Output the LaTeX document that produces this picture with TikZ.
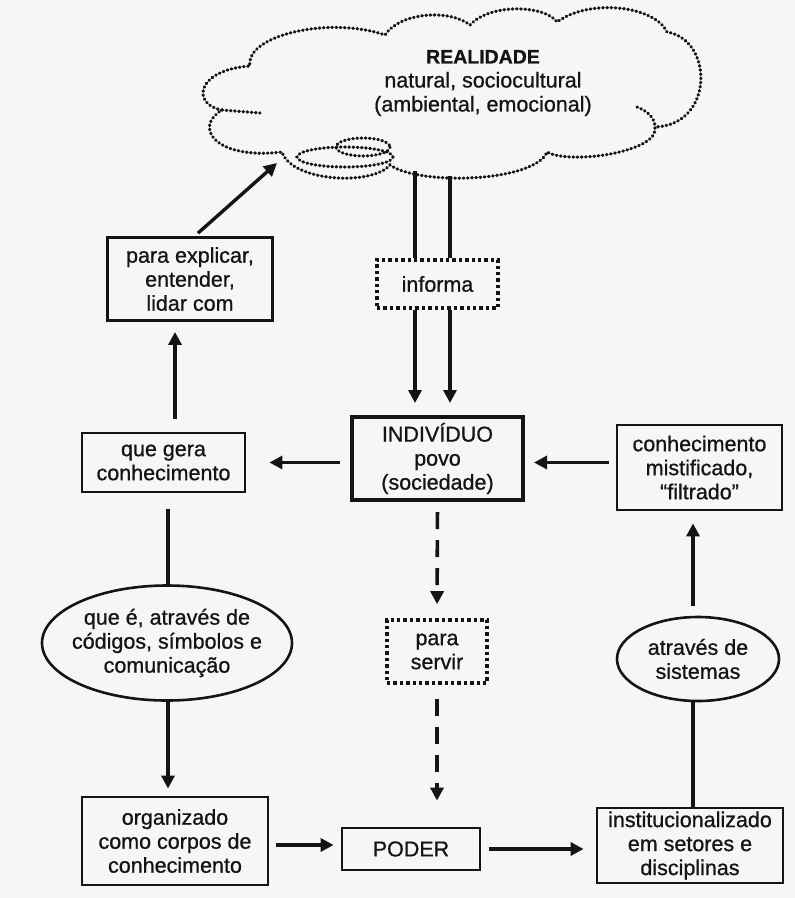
\documentclass[tikz,border=0pt]{standalone}
\usepackage{fontspec}
\setmainfont{Liberation Sans}[FakeBold=0.8]
\usetikzlibrary{arrows.meta,shapes.geometric}
\definecolor{bgc}{RGB}{246,246,246}
\definecolor{ink}{RGB}{20,20,20}
\begin{document}
\begin{tikzpicture}[x=1pt,y=-1pt, color=ink,
  txt/.style={font=\fontsize{21.5}{24}\selectfont, align=center, inner sep=0pt, text=ink},
  solidbox/.style={txt, draw, line width=2.8pt},
  dotbox/.style={txt, draw, line width=3.6pt, dash pattern=on 3.4pt off 3pt},
  ovalbox/.style={txt, draw, ellipse, line width=2.6pt, inner xsep=-14pt, inner ysep=0pt},
  arr/.style={line width=3.4pt, -{Triangle[length=13pt,width=13pt]}},
  ln/.style={line width=3.4pt},
  dsh/.style={line width=3.6pt, dash pattern=on 17pt off 11pt, -{Triangle[length=13pt,width=13pt]}},
  cloudline/.style={line width=3.2pt, dash pattern=on 0.6pt off 3.6pt, line cap=round}
]
\fill[bgc] (0,0) rectangle (795,898);
\useasboundingbox (0,0) rectangle (795,898);

% cloud
\draw[cloudline] (222,110) .. controls (192,105) and (195,70) .. (250,66)
  .. controls (245,35) and (330,16) .. (385,35)
  .. controls (400,12) and (450,9) .. (470,25)
  .. controls (490,3) and (545,5) .. (557,22)
  .. controls (590,-2) and (655,6) .. (667,32)
  .. controls (714,40) and (714,125) .. (655,127)
  .. controls (660,152) and (570,165) .. (547,152)
  .. controls (535,182) and (420,186) .. (390,165)
  .. controls (372,186) and (292,182) .. (282,152)
  .. controls (215,160) and (193,127) .. (222,110);
\draw[cloudline] (637,107) .. controls (650,112) and (655,120) .. (655,127);
\draw[cloudline] (222,110) -- (260,113);
\draw[cloudline] (345,157) ellipse [x radius=48, y radius=10];
\draw[cloudline] (363,147) ellipse [x radius=27, y radius=9];
\node[txt] (real) at (483,83) {{\bfseries\fontsize{19.5}{24}\selectfont REALIDADE}\\natural, sociocultural\\(ambiental, emocional)};

\coordinate (cl) at (277,163);
\coordinate (ca) at (415,171);
\coordinate (cb) at (450,176);
\coordinate (lx) at (175,0);
\coordinate (lx2) at (168,0);
\coordinate (rx) at (693,0);

% nodes
\node[solidbox, minimum width=165pt, minimum height=83pt] (expl) at (190,279) {para explicar,\\entender,\\lidar com};
\node[dotbox, minimum width=121pt, minimum height=48pt] (inf) at (437.5,284) {informa};
\node[solidbox, minimum width=163pt, minimum height=59pt] (gera) at (163.5,462.5) {que gera\\conhecimento};
\node[solidbox, line width=4pt, minimum width=171pt, minimum height=83pt] (ind) at (437.5,458.5) {INDIVÍDUO\\povo\\(sociedade)};
\node[solidbox, minimum width=165pt, minimum height=85pt] (mist) at (699.5,467.5) {conhecimento\\mistificado,\\“filtrado”};
\node[ovalbox, minimum width=250pt, minimum height=115pt] (ell) at (167,643) {que é, através de\\códigos, símbolos e\\comunicação};
\node[dotbox, minimum width=100pt, minimum height=63pt] (serv) at (437,651.5) {para\\servir};
\node[ovalbox, inner xsep=0pt, minimum width=162pt, minimum height=84pt] (sist) at (698,659) {através de\\sistemas};
\node[solidbox, minimum width=186pt, minimum height=88pt] (org) at (175,841) {organizado\\como corpos de\\conhecimento};
\node[solidbox, minimum width=138pt, minimum height=42pt] (poder) at (411,849) {PODER};
\node[solidbox, minimum width=186pt, minimum height=75pt] (inst) at (690,845.5) {institucionalizado\\em setores e\\disciplinas};

% connectors
\draw[arr] ([xshift=8pt,yshift=3pt]expl.north) -- (cl);
\draw[ln] (ca) -- (ca |- inf.north);
\draw[ln] (cb) -- (cb |- inf.north);
\draw[arr, shorten >=12pt] (ca |- inf.south) -- (ca |- ind.north);
\draw[arr, shorten >=12pt] (cb |- inf.south) -- (cb |- ind.north);
\draw[arr, shorten <=10pt, shorten >=23pt] (gera.east -| ind.west) -- (gera.east);
\draw[arr, shorten <=7pt, shorten >=9pt] (gera.east -| mist.west) -- (gera.east -| ind.east);
\draw[arr, shorten <=13pt, shorten >=10pt] (lx |- gera.north) -- (lx |- expl.south);
\draw[ln, shorten <=16pt] (lx2 |- gera.south) -- (lx2 |- ell.north);
\draw[arr, shorten >=7pt] (lx2 |- ell.south) -- (lx2 |- org.north);
\draw[dsh, shorten <=10pt, shorten >=14pt] (ind.south) -- (serv.north);
\draw[dsh, shorten <=14pt, shorten >=26pt] (serv.south) -- (serv.south |- poder.north);
\draw[arr, shorten <=7pt, shorten >=7pt] (org.east |- 0,845) -- (poder.west |- 0,845);
\draw[arr, shorten <=8pt, shorten >=12pt] (poder.east) -- (inst.west |- poder.east);
\draw[ln] (rx |- inst.north) -- (rx |- sist.south);
\draw[arr, shorten <=10pt, shorten >=12pt] (rx |- sist.north) -- (rx |- mist.south);
\end{tikzpicture}
\end{document}
